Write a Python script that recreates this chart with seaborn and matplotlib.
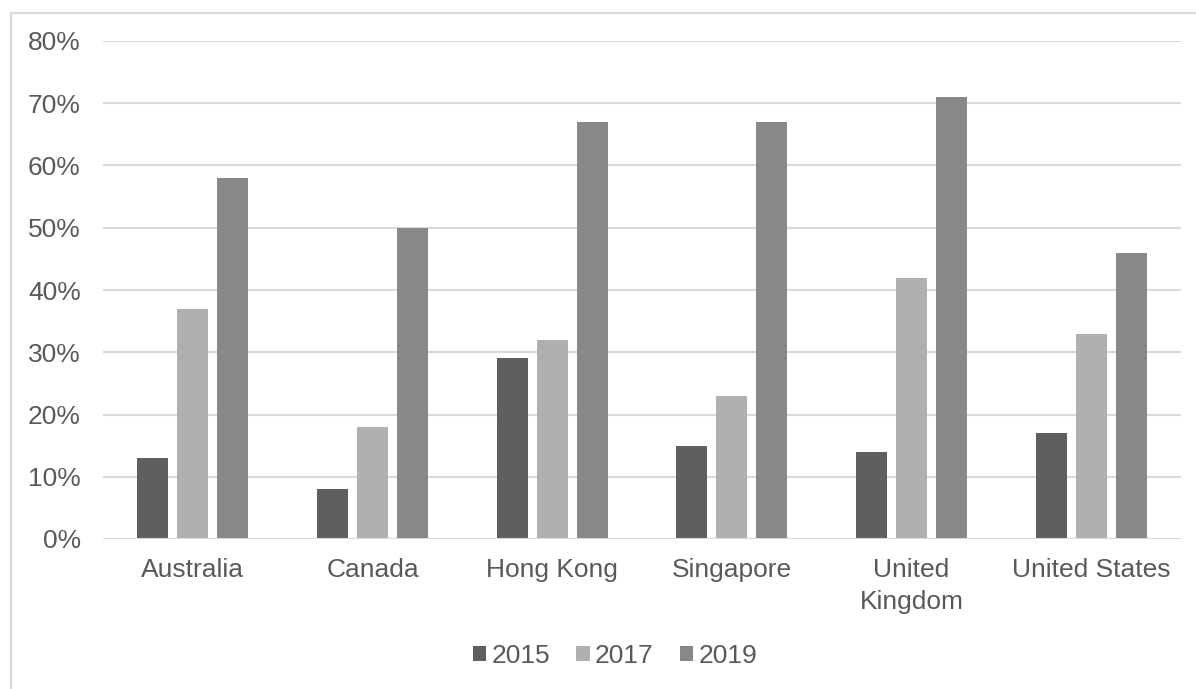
import matplotlib
matplotlib.use("Agg")
import matplotlib.pyplot as plt
from matplotlib.patches import Rectangle
from matplotlib.ticker import FuncFormatter
import pandas as pd
import seaborn as sns

# Share of respondents by market and survey year (%)
countries = ["Australia", "Canada", "Hong Kong", "Singapore", "United\nKingdom", "United States"]
years = ["2015", "2017", "2019"]
values_2015 = [13, 8, 29, 15, 14, 17]
values_2017 = [37, 18, 32, 23, 42, 33]
values_2019 = [58, 50, 67, 67, 71, 46]
colors = ["#5f5f5f", "#b0b0b0", "#888888"]

df = pd.DataFrame({
    "country": countries * 3,
    "year": [y for y in years for _ in countries],
    "value": values_2015 + values_2017 + values_2019,
})

sns.set_theme(style="white")
plt.rcParams["font.family"] = ["Liberation Sans", "DejaVu Sans"]

W, H = 1196, 689
fig = plt.figure(figsize=(W / 100, H / 100), dpi=100)
ax = fig.add_axes([103 / W, 150 / H, (1181 - 103) / W, (539 - 41) / H])

# Chart-area frame
fig.patches.append(Rectangle((11 / W, -0.1), 1.2, 1 - 13 / H + 0.1,
                             transform=fig.transFigure, fill=False,
                             edgecolor="#d9d9d9", linewidth=1.5, zorder=0))

sns.barplot(data=df, x="country", y="value", hue="year", order=countries,
            hue_order=years, palette=colors, width=0.668, gap=0.22,
            linewidth=0, saturation=1, ax=ax, zorder=3)

ax.set_ylim(0, 80)
ax.set_yticks(range(0, 81, 10))
ax.yaxis.set_major_formatter(FuncFormatter(lambda v, _: f"{v:.0f}%"))
ax.set_xlim(-0.5, len(countries) - 0.5)
ax.grid(axis="y", color="#d9d9d9", linewidth=1.5, zorder=0)
ax.grid(axis="x", visible=False)
for s in ax.spines.values():
    s.set_visible(False)
ax.axhline(0, color="#d9d9d9", linewidth=1.5, zorder=4)
ax.set_xlabel("")
ax.set_ylabel("")
ax.tick_params(axis="y", length=0, pad=16, labelsize=19, labelcolor="#595959")
ax.tick_params(axis="x", length=0, pad=14, labelsize=19, labelcolor="#595959")
for lbl in ax.get_xticklabels():
    lbl.set_linespacing(1.4)

handles, labels = ax.get_legend_handles_labels()
if ax.legend_:
    ax.legend_.remove()
fig.legend(handles, labels, loc="center", bbox_to_anchor=(615 / W, 1 - 656 / H),
           ncol=3, frameon=False, fontsize=19, handlelength=0.5,
           handleheight=0.5, handletextpad=0.2, columnspacing=1.0,
           labelcolor="#595959")

fig.savefig("out.png", dpi=100)
